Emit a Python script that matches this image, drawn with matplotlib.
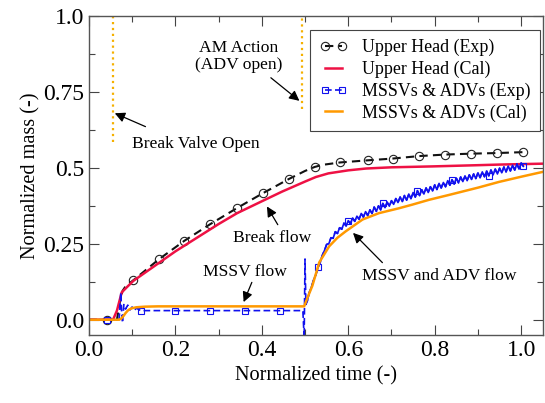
import numpy as np
import matplotlib.pyplot as plt

plt.rcParams['font.family'] = ['Liberation Serif', 'DejaVu Serif']

# Upper head, experiment
uh_exp_t = [0.0, 0.041, 0.065, 0.072, 0.078, 0.085, 0.103, 0.162, 0.221, 0.281, 0.343,
            0.403, 0.462, 0.50, 0.522, 0.54, 0.581, 0.645, 0.704, 0.764, 0.824, 0.885,
            0.945, 1.005]
uh_exp_y = [0.0, 0.0, 0.0, 0.06, 0.095, 0.11, 0.13, 0.199, 0.26, 0.315, 0.368,
            0.417, 0.463, 0.49, 0.503, 0.51, 0.518, 0.525, 0.531, 0.539, 0.544, 0.547,
            0.549, 0.552]
uh_exp_marks = [0.041, 0.103, 0.162, 0.221, 0.281, 0.343, 0.403, 0.462, 0.522, 0.581,
                0.645, 0.704, 0.764, 0.824, 0.885, 0.945, 1.005]

# Upper head, calculation
uh_cal_t = [0.0, 0.056, 0.065, 0.076, 0.09, 0.103, 0.15, 0.2, 0.25, 0.3, 0.343, 0.4,
            0.447, 0.5, 0.525, 0.554, 0.6, 0.641, 0.7, 0.795, 0.9, 0.949, 1.05]
uh_cal_y = [0.0, 0.0, 0.03, 0.09, 0.11, 0.128, 0.175, 0.225, 0.27, 0.315, 0.351, 0.39,
            0.422, 0.455, 0.47, 0.482, 0.492, 0.498, 0.502, 0.505, 0.509, 0.511, 0.514]

# MSSVs & ADVs, experiment
mv_exp_t = [0.0, 0.041, 0.07, 0.074, 0.076, 0.078, 0.081, 0.085, 0.09, 0.095, 0.1, 0.105,
            0.11, 0.12, 0.2, 0.281, 0.362, 0.443, 0.495, 0.498, 0.5, 0.502,
            0.505, 0.51, 0.515, 0.52, 0.525, 0.53, 0.535, 0.54, 0.545,
            0.550, 0.555, 0.560, 0.565, 0.570, 0.575, 0.580, 0.585, 0.590, 0.595,
            0.600, 0.605, 0.610, 0.615, 0.620, 0.625, 0.630, 0.635, 0.640, 0.645,
            0.650, 0.655, 0.660, 0.665, 0.670, 0.675, 0.680, 0.685, 0.690, 0.695,
            0.700, 0.705, 0.710, 0.715, 0.720, 0.725, 0.730, 0.735, 0.740, 0.745,
            0.750, 0.755, 0.760, 0.765, 0.770, 0.775, 0.780, 0.785, 0.790, 0.795,
            0.800, 0.805, 0.810, 0.815, 0.820, 0.825, 0.830, 0.835, 0.840, 0.845,
            0.850, 0.855, 0.860, 0.865, 0.870, 0.875, 0.880, 0.885, 0.890, 0.895,
            0.900, 0.905, 0.910, 0.915, 0.920, 0.925, 0.930, 0.935, 0.940, 0.945,
            0.950, 0.955, 0.960, 0.965, 0.970, 0.975, 0.980, 0.985, 0.990, 0.995,
            1.000, 1.005]
mv_exp_y = [0.0, 0.0, 0.0, 0.09, 0.02, -0.01, 0.05, 0.035, 0.048, 0.032, 0.042, 0.03,
            0.038, 0.03, 0.03, 0.03, 0.03, 0.03, 0.03, -0.06, 0.2, 0.05,
            0.06, 0.09, 0.108, 0.132, 0.148, 0.172, 0.188, 0.212, 0.228,
            0.248, 0.250, 0.270, 0.268, 0.290, 0.284, 0.303, 0.298, 0.318, 0.309,
            0.326, 0.316, 0.335, 0.324, 0.341, 0.331, 0.350, 0.338, 0.356, 0.343,
            0.362, 0.350, 0.371, 0.357, 0.375, 0.362, 0.383, 0.369, 0.387, 0.374,
            0.392, 0.380, 0.399, 0.386, 0.404, 0.389, 0.409, 0.394, 0.414, 0.399,
            0.419, 0.404, 0.425, 0.409, 0.428, 0.414, 0.434, 0.419, 0.438, 0.424,
            0.444, 0.429, 0.449, 0.434, 0.452, 0.438, 0.458, 0.443, 0.461, 0.447,
            0.466, 0.451, 0.470, 0.455, 0.473, 0.458, 0.477, 0.462, 0.480, 0.465,
            0.484, 0.468, 0.487, 0.471, 0.490, 0.474, 0.493, 0.477, 0.496, 0.480,
            0.499, 0.484, 0.503, 0.487, 0.506, 0.490, 0.509, 0.493, 0.513, 0.497,
            0.516, 0.505]
mv_exp_marks = [0.041, 0.12, 0.2, 0.281, 0.362, 0.443, 0.53, 0.600, 0.680, 0.760,
                0.840, 0.925, 1.005]
dense_from = 0.505  # exp samples are dense from here, line looks solid

# MSSVs & ADVs, calculation
mv_cal_t = [0.0, 0.07, 0.075, 0.08, 0.085, 0.09, 0.095, 0.1, 0.11, 0.13, 0.16, 0.498,
            0.505, 0.517, 0.533, 0.556, 0.575, 0.594, 0.633, 0.671, 0.717, 0.748,
            0.787, 0.833, 0.9, 0.949, 1.0, 1.05]
mv_cal_y = [0.0, 0.0, 0.004, 0.012, 0.022, 0.03, 0.035, 0.038, 0.041, 0.043, 0.044, 0.044,
            0.07, 0.112, 0.189, 0.242, 0.27, 0.291, 0.33, 0.351, 0.367, 0.379,
            0.395, 0.411, 0.435, 0.454, 0.471, 0.487]

break_valve_t = 0.057
am_action_t = 0.494


def mark_idx(t, marks):
    t = np.array(t)
    return [int(np.argmin(np.abs(t - m))) for m in marks]


fig = plt.figure(figsize=(5.45, 4.03), dpi=100)
ax = fig.add_axes([0.163, 0.169, 0.833, 0.791])

gold = '#f5b000'
ax.plot([break_valve_t, break_valve_t], [0.584, 1.0], ls=':', color=gold, lw=1.6)
ax.plot([am_action_t, am_action_t], [0.695, 1.0], ls=':', color=gold, lw=1.6)

ax.plot(uh_exp_t, uh_exp_y, ls='--', dashes=(4, 2.5), color='#111111', lw=1.5,
        marker='o', ms=6, mfc='none', mec='#222222', mew=0.8,
        markevery=mark_idx(uh_exp_t, uh_exp_marks), label='Upper Head (Exp)')
ax.plot(uh_cal_t, uh_cal_y, color='#ee1144', lw=1.8, label='Upper Head (Cal)')
ax.plot(mv_exp_t, mv_exp_y, ls='--', dashes=(4, 2), color='#1111ee', lw=1.2,
        marker='s', ms=5, mfc='none', mec='#1111ee', mew=0.8,
        markevery=mark_idx(mv_exp_t, mv_exp_marks), label='MSSVs & ADVs (Exp)')
i0 = mv_exp_t.index(dense_from)
ax.plot(mv_exp_t[i0:], mv_exp_y[i0:], color='#1111ee', lw=1.2)
ax.plot(mv_cal_t, mv_cal_y, color='#ff9900', lw=1.8, label='MSSVs & ADVs (Cal)')

arrow = dict(arrowstyle='-|>', color='black', lw=0.9, mutation_scale=15,
             shrinkA=0, shrinkB=0)
fs = 12.6
ax.text(0.247, 0.578, 'Break Valve Open', fontsize=fs, ha='center', va='center')
ax.annotate('', xy=(0.06, 0.68), xytext=(0.131, 0.636), arrowprops=arrow)
ax.text(0.346, 0.868, 'AM Action\n(ADV open)', fontsize=fs, ha='center', va='center',
        linespacing=1.1)
ax.annotate('', xy=(0.487, 0.721), xytext=(0.421, 0.797), arrowprops=arrow)
ax.text(0.424, 0.268, 'Break flow', fontsize=fs, ha='center', va='center')
ax.annotate('', xy=(0.412, 0.373), xytext=(0.437, 0.313), arrowprops=arrow)
ax.text(0.362, 0.158, 'MSSV flow', fontsize=fs, ha='center', va='center')
ax.annotate('', xy=(0.358, 0.058), xytext=(0.377, 0.123), arrowprops=arrow)
ax.text(0.81, 0.145, 'MSSV and ADV flow', fontsize=fs, ha='center', va='center')
ax.annotate('', xy=(0.611, 0.286), xytext=(0.679, 0.188), arrowprops=arrow)

ax.set_xlim(0, 1.05)
ax.set_ylim(-0.05, 1.0)
ax.set_xticks([0.0, 0.2, 0.4, 0.6, 0.8, 1.0])
ax.set_xticks(np.arange(0.1, 1.05, 0.2), minor=True)
ax.set_yticks([0.0, 0.25, 0.5, 0.75, 1.0])
ax.set_yticklabels(['0.0', '0.25', '0.5', '0.75', '1.0'])
ax.set_yticks([0.125, 0.375, 0.625, 0.875], minor=True)
ax.tick_params(which='both', direction='in', top=True, right=True, labelsize=17,
               color='#444444')
ax.tick_params(which='major', length=7, width=0.8)
ax.tick_params(which='minor', length=4.5, width=0.8)
for s in ax.spines.values():
    s.set_color('#555555')
    s.set_linewidth(1.0)

ax.set_xlabel('Normalized time (-)', fontsize=14.6)
ax.set_ylabel('Normalized mass (-)', fontsize=14.6, labelpad=2)

leg = ax.legend(loc='upper right', bbox_to_anchor=(0.993, 0.956), fontsize=12.9,
                numpoints=2, handlelength=1.6, handletextpad=0.8, borderpad=0.5,
                labelspacing=0.25, borderaxespad=0, fancybox=False, framealpha=1)
leg.get_frame().set_edgecolor('#444444')
leg.get_frame().set_linewidth(0.8)

fig.savefig('out.png', dpi=100)
